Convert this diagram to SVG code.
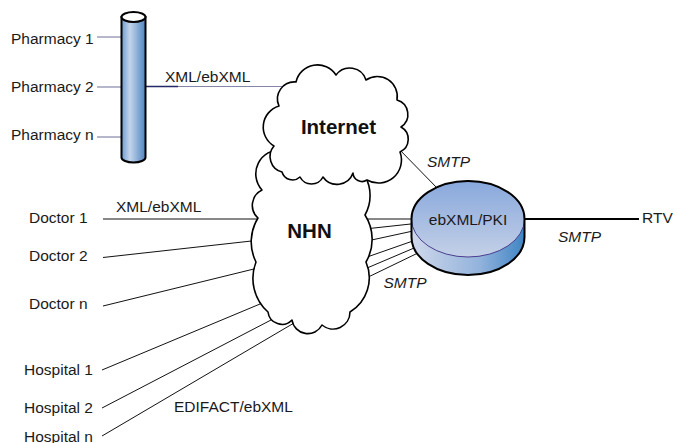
<svg xmlns="http://www.w3.org/2000/svg" width="675" height="443" viewBox="0 0 675 443">
  <defs>
    <linearGradient id="pipeGrad" x1="0" y1="0" x2="1" y2="0">
      <stop offset="0" stop-color="#6f9bcf"/>
      <stop offset="0.35" stop-color="#c3d5ec"/>
      <stop offset="1" stop-color="#4f84c0"/>
    </linearGradient>
    <linearGradient id="topGrad" x1="0" y1="0" x2="0" y2="1">
      <stop offset="0" stop-color="#88a8dc"/>
      <stop offset="1" stop-color="#c4d0e7"/>
    </linearGradient>
    <linearGradient id="sideGrad" x1="0" y1="0" x2="1" y2="0">
      <stop offset="0" stop-color="#cfd8ea"/>
      <stop offset="0.6" stop-color="#93b3dc"/>
      <stop offset="1" stop-color="#3f85c4"/>
    </linearGradient>
  </defs>
  <style>
    .lbl { font-family: "Liberation Sans", Arial, sans-serif; font-size: 15.5px; fill: #1a1a1a; }
    .it { font-style: italic; }
    .big { font-family: "Liberation Sans", Arial, sans-serif; font-size: 20.5px; font-weight: bold; fill: #111; text-anchor: middle; }
    .mid { text-anchor: middle; }
    .thin { stroke: #111; stroke-width: 1; fill: none; }
    .pl { stroke: #8585aa; stroke-width: 1.2; fill: none; }
    .cloud { fill: #fff; stroke: #000; stroke-width: 1.6; stroke-linejoin: round; }
  </style>

  <g id="connectors">
    <line class="pl" x1="97" y1="37" x2="123" y2="37"/>
    <line class="pl" x1="97" y1="87" x2="123" y2="87"/>
    <line class="pl" x1="97" y1="137" x2="123" y2="137"/>
    <line x1="145" y1="86.5" x2="178" y2="86.5" stroke="#23286a" stroke-width="1.6"/>
    <line class="pl" x1="178" y1="86.5" x2="296" y2="86.5"/>
    <line class="thin" x1="103" y1="219" x2="262" y2="219"/>
    <line class="thin" x1="103" y1="257.5" x2="256" y2="240.5"/>
    <line class="thin" x1="103" y1="306" x2="258" y2="268"/>
    <line class="thin" x1="102" y1="370" x2="266" y2="301.5"/>
    <line class="thin" x1="102" y1="408" x2="271" y2="320"/>
    <line class="thin" x1="102" y1="436" x2="294" y2="323"/>
    <line class="thin" x1="396" y1="146" x2="440" y2="191"/>
    <line class="thin" x1="358" y1="219" x2="420" y2="219"/>
    <line class="thin" x1="360" y1="229.5" x2="420" y2="223"/>
    <line class="thin" x1="360" y1="242.5" x2="420" y2="229.5"/>
    <line class="thin" x1="360" y1="259.5" x2="420" y2="238.5"/>
    <line class="thin" x1="360" y1="271" x2="420" y2="245.5"/>
    <line class="thin" x1="360" y1="281" x2="420" y2="252"/>
    <line x1="520" y1="219" x2="639" y2="219" stroke="#000" stroke-width="2"/>
  </g>

  <g id="pipe">
    <path d="M121.5 17 L121.5 157.5 A12 5 0 0 0 145.5 157.5 L145.5 17 Z" fill="url(#pipeGrad)" stroke="#000" stroke-width="2"/>
    <ellipse cx="133.5" cy="17" rx="12" ry="5" fill="#fff" stroke="#000" stroke-width="2"/>
  </g>

  <g id="nhn">
    <path class="cloud" d="M300 165 L330 160 L365 170 L365 176
      A40 40 0 0 1 365 215
      A45 45 0 0 1 366 262
      A40 40 0 0 1 350 312
      A17 17 0 0 1 322 325
      A16 16 0 0 1 292 320
      A14 14 0 0 1 268 312
      A45 45 0 0 1 256 262
      A45 45 0 0 1 258 218
      A17 17 0 0 1 262 190
      A24 24 0 0 1 282 150
      L300 165 Z"/>
    <text class="big" x="309.5" y="237.5">NHN</text>
  </g>

  <g id="internet">
    <path class="cloud" d="M282 172
      A16 16 0 0 1 274 146
      A22 22 0 0 1 279 106
      A17 17 0 0 1 296 82
      A22 22 0 0 1 336 75
      A17 17 0 0 1 366 80
      A20 20 0 0 1 397 100
      A15 15 0 0 1 401 127
      A14 14 0 0 1 400 152
      A23 23 0 0 1 367 180
      A9 9 0 0 1 353 173
      A17 17 0 0 1 323 177
      A13 13 0 0 1 300 177
      A11 11 0 0 1 282 172 Z"/>
    <text class="big" x="338.5" y="134">Internet</text>
  </g>

  <g id="ebxml">
    <path d="M411.5 219 L411.5 237 A56.5 38 0 0 0 524.5 237 L524.5 219 Z" fill="url(#sideGrad)"/>
    <ellipse cx="468" cy="219" rx="56.5" ry="38" fill="url(#topGrad)" stroke="#4a3f8f" stroke-width="1"/>
    <path d="M411.5 219 A56.5 38 0 0 1 524.5 219 L524.5 237 A56.5 38 0 0 1 411.5 237 Z" fill="none" stroke="#000" stroke-width="2"/>
    <text class="lbl mid" x="468" y="224.5">ebXML/PKI</text>
  </g>

  <g id="labels">
    <text class="lbl" x="11" y="44">Pharmacy 1</text>
    <text class="lbl" x="11" y="92">Pharmacy 2</text>
    <text class="lbl" x="11" y="139.5">Pharmacy n</text>
    <text class="lbl" x="165" y="81.5">XML/ebXML</text>
    <text class="lbl" x="29" y="223.3">Doctor 1</text>
    <text class="lbl" x="116" y="212">XML/ebXML</text>
    <text class="lbl" x="29" y="261">Doctor 2</text>
    <text class="lbl" x="29" y="309.3">Doctor n</text>
    <text class="lbl" x="24" y="374.7">Hospital 1</text>
    <text class="lbl" x="24" y="413.3">Hospital 2</text>
    <text class="lbl" x="24" y="441.5">Hospital n</text>
    <text class="lbl" x="174" y="412.3">EDIFACT/ebXML</text>
    <text class="lbl it" x="427" y="166.7">SMTP</text>
    <text class="lbl it" x="558" y="241.7">SMTP</text>
    <text class="lbl it" x="383.5" y="288.3">SMTP</text>
    <text class="lbl" x="642" y="223">RTV</text>
  </g>
</svg>
